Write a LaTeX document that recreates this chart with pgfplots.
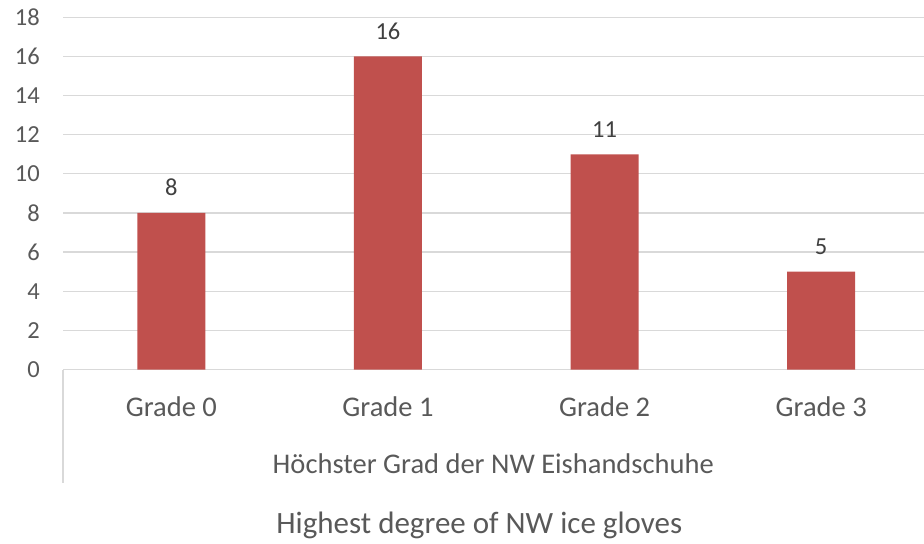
\documentclass[border=0pt]{standalone}
\usepackage{fontspec}
\setmainfont{Carlito}
\usepackage{pgfplots}
\pgfplotsset{compat=1.18}
\definecolor{barred}{HTML}{C0504D}
\definecolor{gridgray}{HTML}{D9D9D9}
\definecolor{txtgray}{HTML}{595959}
\definecolor{lblgray}{HTML}{404040}
\begin{document}
\begin{tikzpicture}
\useasboundingbox (0,0) rectangle (924bp,544bp);
\begin{axis}[
    scale only axis,
    width=866.5bp, height=352.2bp,
    at={(63bp,174.5bp)}, anchor=south west,
    xmin=-0.5, xmax=3.5,
    ymin=0, ymax=18,
    ytick={0,2,...,18},
    xtick={0,1,2,3},
    xticklabels={Grade 0,Grade 1,Grade 2,Grade 3},
    major tick length=0pt,
    axis line style={draw=none},
    ymajorgrids,
    grid style={draw=gridgray, line width=1.3bp},
    /pgf/number format/assume math mode=true,
    yticklabel style={font=\fontsize{24.5bp}{29bp}\selectfont, text=txtgray,
        anchor=east, inner sep=0pt, xshift=-23bp},
    xticklabel style={font=\fontsize{28.5bp}{34bp}\selectfont, text=txtgray,
        anchor=base, inner sep=0pt, yshift=-47bp},
    ybar, bar width=68bp,
    nodes near coords,
    nodes near coords style={font=\fontsize{24.5bp}{29bp}\selectfont, text=lblgray,
        anchor=south, inner sep=0pt, yshift=17bp},
    clip=false,
]
\addplot[fill=barred, draw=none] coordinates {(0,8) (1,16) (2,11) (3,5)};
\draw[gridgray, line width=1.3bp] (rel axis cs:0,0) -- ([yshift=-113bp]rel axis cs:0,0);
\node[anchor=base, text=txtgray, font=\fontsize{28.5bp}{34bp}\selectfont, inner sep=0pt]
    at ([xshift=-3bp, yshift=-104bp]rel axis cs:0.5,0) {Höchster Grad der NW Eishandschuhe};
\node[anchor=base, text=txtgray, font=\fontsize{31bp}{37bp}\selectfont, inner sep=0pt]
    at ([xshift=-17bp, yshift=-164bp]rel axis cs:0.5,0) {Highest degree of NW ice gloves};
\end{axis}
\end{tikzpicture}
\end{document}
